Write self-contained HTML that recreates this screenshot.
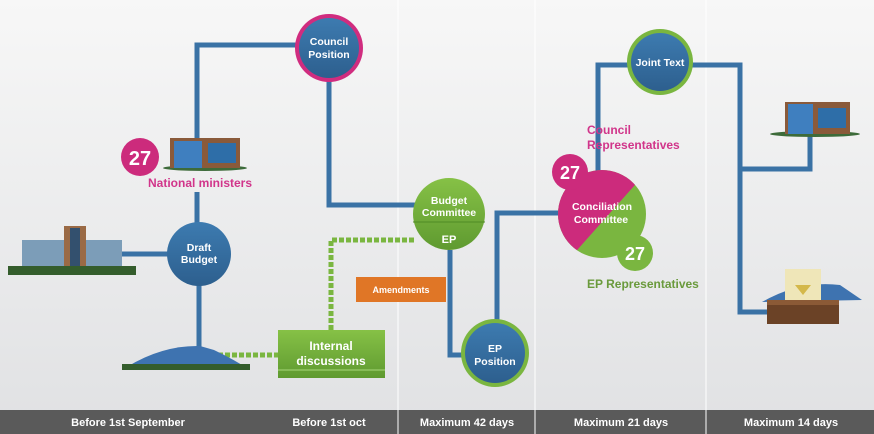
<!DOCTYPE html>
<html><head><meta charset="utf-8"><style>
body{margin:0;width:874px;height:434px;overflow:hidden;font-family:"Liberation Sans",sans-serif}
svg{display:block}
text{font-family:"Liberation Sans",sans-serif;font-weight:bold}
</style></head><body>
<svg width="874" height="434" viewBox="0 0 874 434">
<defs>
<linearGradient id="bg" x1="0" y1="0" x2="0" y2="1"><stop offset="0" stop-color="#f7f7f7"/><stop offset="1" stop-color="#e0e1e3"/></linearGradient>
<linearGradient id="gb" x1="0" y1="0" x2="0" y2="1"><stop offset="0" stop-color="#86c146"/><stop offset="1" stop-color="#5f9a30"/></linearGradient>
<linearGradient id="bb" x1="0" y1="0" x2="0" y2="1"><stop offset="0" stop-color="#3d7bb0"/><stop offset="1" stop-color="#2d5f8e"/></linearGradient>
</defs>
<rect width="874" height="434" fill="url(#bg)"/>
<g stroke="#fff" stroke-width="1">
<line x1="398" y1="0" x2="398" y2="434"/><line x1="535" y1="0" x2="535" y2="434"/><line x1="706" y1="0" x2="706" y2="434"/>
</g>
<g fill="none" stroke="#3a72a5" stroke-width="5">
<polyline points="197,140 197,45 300,45"/>
<polyline points="329,80 329,205 418,205"/>
<line x1="197" y1="192" x2="197" y2="225"/>
<line x1="120" y1="254" x2="170" y2="254"/>
<line x1="199" y1="285" x2="199" y2="350"/>
<polyline points="450,250 450,355 465,355"/>
<polyline points="497,322 497,213 560,213"/>
<polyline points="598,172 598,65 630,65"/>
<polyline points="690,65 740,65 740,312 770,312"/>
<polyline points="740,169 810,169 810,132"/>
</g>
<g fill="none" stroke="#7ab640" stroke-width="5" stroke-dasharray="5,2">
<line x1="218" y1="355" x2="280" y2="355"/>
<polyline points="331,330 331,240 414,240"/>
</g>
<!-- buildings -->
<g>
<ellipse cx="205" cy="168" rx="42" ry="3" fill="#3d6b3a"/>
<rect x="170" y="138" width="70" height="30" fill="#8a5a3a"/><rect x="174" y="141" width="28" height="27" fill="#3f7fbf"/><rect x="208" y="143" width="28" height="20" fill="#2e6ea8"/>
</g>
<g>
<rect x="22" y="240" width="100" height="32" fill="#7c9db8"/><rect x="64" y="226" width="22" height="46" fill="#9a6a45"/><rect x="70" y="228" width="10" height="44" fill="#33506e"/>
<rect x="8" y="266" width="128" height="9" fill="#345d2c"/>
</g>
<g>
<path d="M122 370 Q160 345 200 346 L214 350 Q235 360 250 370 Z" fill="#3e73b0"/>
<rect x="122" y="364" width="128" height="6" fill="#345d2c"/>
</g>
<g>
<ellipse cx="815" cy="134" rx="45" ry="3" fill="#3d6b3a"/>
<rect x="785" y="102" width="65" height="32" fill="#8a5a3a"/><rect x="788" y="104" width="25" height="30" fill="#3f7fbf"/><rect x="818" y="108" width="28" height="20" fill="#2e6ea8"/>
</g>
<g>
<path d="M762 302 Q800 280 840 285 L862 300 Z" fill="#3e73b0"/>
<rect x="785" y="269" width="36" height="36" fill="#efe6b8"/><path d="M795 285 h16 l-8 10 z" fill="#d4b84a"/>
<rect x="767" y="300" width="72" height="24" fill="#6b4226"/><rect x="767" y="300" width="72" height="5" fill="#8b5a36"/>
</g>
<!-- nodes -->
<g>
<circle cx="329" cy="48" r="34" fill="#d02c7f"/><circle cx="329" cy="48" r="30" fill="url(#bb)"/>
<text x="329" y="45" fill="#fff" font-size="10.5" text-anchor="middle">Council</text><text x="329" y="58" fill="#fff" font-size="10.5" text-anchor="middle">Position</text>
</g>
<g>
<circle cx="140" cy="157" r="19" fill="#cc2b7c"/><text x="140" y="165" fill="#fff" font-size="20" text-anchor="middle">27</text>
</g>
<text x="148" y="187" fill="#d1358a" font-size="12">National ministers</text>
<g>
<circle cx="199" cy="254" r="32" fill="url(#bb)"/>
<text x="199" y="251" fill="#fff" font-size="10.5" text-anchor="middle">Draft</text><text x="199" y="263" fill="#fff" font-size="10.5" text-anchor="middle">Budget</text>
</g>
<g>
<rect x="278" y="330" width="107" height="48" fill="url(#gb)"/><line x1="278" y1="370" x2="385" y2="370" stroke="#a8d77a" stroke-width="1"/>
<text x="331" y="350" fill="#fff" font-size="12" text-anchor="middle">Internal</text><text x="331" y="365" fill="#fff" font-size="12" text-anchor="middle">discussions</text>
</g>
<g>
<circle cx="449" cy="214" r="36" fill="url(#gb)"/><line x1="413" y1="222" x2="485" y2="222" stroke="#4f8a25" stroke-width="1"/>
<text x="449" y="204" fill="#fff" font-size="10.5" text-anchor="middle">Budget</text><text x="449" y="216" fill="#fff" font-size="10.5" text-anchor="middle">Committee</text>
<text x="449" y="243" fill="#fff" font-size="11" text-anchor="middle">EP</text>
</g>
<g>
<rect x="356" y="277" width="90" height="25" fill="#e07626"/>
<text x="401" y="293" fill="#fff" font-size="9" text-anchor="middle">Amendments</text>
</g>
<g>
<circle cx="495" cy="353" r="34" fill="#7ab640"/><circle cx="495" cy="353" r="30" fill="url(#bb)"/>
<text x="495" y="352" fill="#fff" font-size="10.5" text-anchor="middle">EP</text><text x="495" y="365" fill="#fff" font-size="10.5" text-anchor="middle">Position</text>
</g>
<g>
<clipPath id="cc"><circle cx="602" cy="214" r="44"/></clipPath>
<g clip-path="url(#cc)"><rect x="555" y="168" width="95" height="95" fill="#7ab640"/><path d="M555 168 H650 L570 258 H555 Z" fill="#cc2b7c"/></g>
<text x="602" y="210" fill="#fff" font-size="10.5" text-anchor="middle">Conciliation</text><text x="601" y="223" fill="#fff" font-size="10.5" text-anchor="middle">Committee</text>
</g>
<g>
<circle cx="570" cy="172" r="18" fill="#cc2b7c"/><text x="570" y="179" fill="#fff" font-size="18" text-anchor="middle">27</text>
</g>
<g>
<circle cx="635" cy="253" r="18" fill="#7ab640"/><text x="635" y="260" fill="#fff" font-size="18" text-anchor="middle">27</text>
</g>
<text x="587" y="134" fill="#d1358a" font-size="12">Council</text>
<text x="587" y="149" fill="#d1358a" font-size="12">Representatives</text>
<text x="587" y="288" fill="#6a9a3c" font-size="12">EP Representatives</text>
<g>
<circle cx="660" cy="62" r="33" fill="#7ab640"/><circle cx="660" cy="62" r="29" fill="url(#bb)"/>
<text x="660" y="66" fill="#fff" font-size="10.5" text-anchor="middle">Joint Text</text>
</g>
<!-- footer -->
<g>
<rect x="0" y="410" width="874" height="24" fill="#5a5a5a"/>
<g stroke="#fff" stroke-width="1"><line x1="398" y1="410" x2="398" y2="434"/><line x1="535" y1="410" x2="535" y2="434"/><line x1="706" y1="410" x2="706" y2="434"/></g>
<g fill="#fff" font-size="11" text-anchor="middle">
<text x="128" y="426">Before 1st September</text>
<text x="329" y="426">Before 1st oct</text>
<text x="467" y="426">Maximum 42 days</text>
<text x="621" y="426">Maximum 21 days</text>
<text x="791" y="426">Maximum 14 days</text>
</g>
</g>
</svg>
</body></html>
